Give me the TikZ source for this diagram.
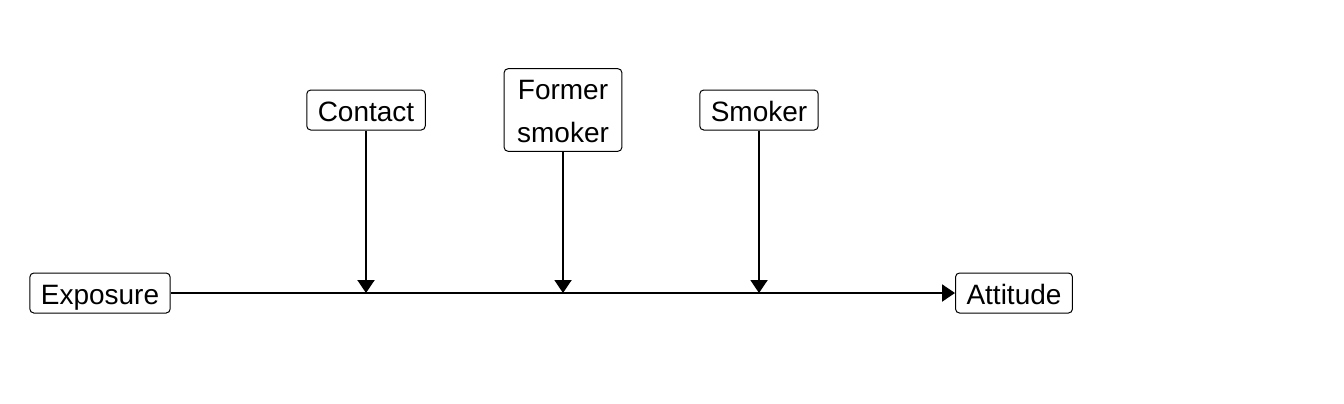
\documentclass[tikz,border=0pt]{standalone}
\usepackage{fontspec}
\setmainfont{Liberation Sans}
\usetikzlibrary{arrows.meta}

\begin{document}
\begin{tikzpicture}[x=0.5pt, y=-0.5pt,
  >={Triangle[length=6.5pt, width=8.5pt]},
  var/.style={draw, line width=0.5pt, rounded corners=2pt,
    font=\fontsize{14}{21.3}\selectfont, align=center,
    inner xsep=5.5pt, inner ysep=2pt,
    text height=13.5pt, text depth=2.5pt},
  path/.style={line width=1pt, ->}]
  \useasboundingbox (0,0) rectangle (1344,403);
  % main path.
  \node[var] (expo) at (100,293) {Exposure};
  \node[var] (att) at (1014,293) {Attitude};
  \draw[path] (expo.east) -- (att.west);
  % moderators.
  \node[var] (contact) at (366,110) {Contact};
  \node[var, text height=34.8pt, inner xsep=6.5pt] (former) at (563,110) {Former\\smoker};
  \node[var] (smoker) at (759,110) {Smoker};
  \coordinate (m1) at (contact |- expo.east);
  \coordinate (m2) at (former |- expo.east);
  \coordinate (m3) at (smoker |- expo.east);
  \draw[path] (contact.south) -- (m1);
  \draw[path] (former.south) -- (m2);
  \draw[path] (smoker.south) -- (m3);
\end{tikzpicture}
\end{document}
